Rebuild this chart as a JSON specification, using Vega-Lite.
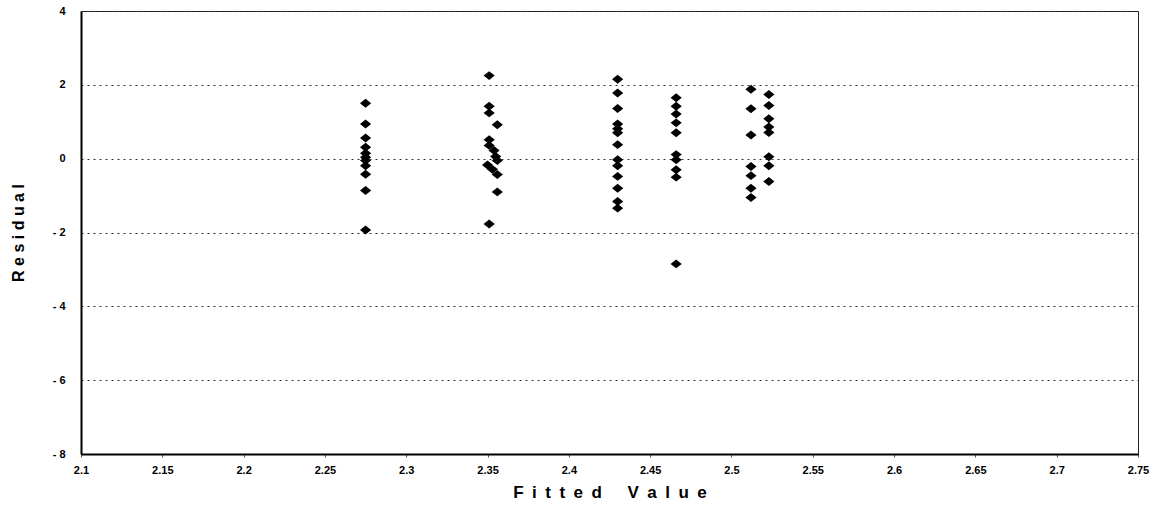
{
  "$schema": "https://vega.github.io/schema/vega-lite/v6.json",
  "width": 1057,
  "height": 443,
  "autosize": {"type": "none"},
  "padding": {"left": 81, "top": 11, "right": 16, "bottom": 52},
  "background": "white",
  "config": {
    "view": {"stroke": "#222", "strokeWidth": 1},
    "font": "Liberation Sans"
  },
  "data": {
    "values": [
      {"fitted": 2.275, "residual": 1.5},
      {"fitted": 2.275, "residual": 0.94},
      {"fitted": 2.275, "residual": 0.56},
      {"fitted": 2.275, "residual": 0.31},
      {"fitted": 2.275, "residual": 0.15},
      {"fitted": 2.275, "residual": 0.04},
      {"fitted": 2.275, "residual": -0.05},
      {"fitted": 2.275, "residual": -0.19},
      {"fitted": 2.275, "residual": -0.42},
      {"fitted": 2.275, "residual": -0.86},
      {"fitted": 2.275, "residual": -1.93},
      {"fitted": 2.351, "residual": 2.25},
      {"fitted": 2.351, "residual": 1.42},
      {"fitted": 2.351, "residual": 1.24},
      {"fitted": 2.356, "residual": 0.92},
      {"fitted": 2.351, "residual": 0.51},
      {"fitted": 2.351, "residual": 0.36},
      {"fitted": 2.354, "residual": 0.22},
      {"fitted": 2.355, "residual": 0.06},
      {"fitted": 2.356, "residual": -0.05},
      {"fitted": 2.350, "residual": -0.17},
      {"fitted": 2.353, "residual": -0.29},
      {"fitted": 2.356, "residual": -0.43},
      {"fitted": 2.356, "residual": -0.9},
      {"fitted": 2.351, "residual": -1.77},
      {"fitted": 2.43, "residual": 2.15},
      {"fitted": 2.43, "residual": 1.78},
      {"fitted": 2.43, "residual": 1.36},
      {"fitted": 2.43, "residual": 0.94},
      {"fitted": 2.43, "residual": 0.81},
      {"fitted": 2.43, "residual": 0.7},
      {"fitted": 2.43, "residual": 0.38},
      {"fitted": 2.43, "residual": -0.03},
      {"fitted": 2.43, "residual": -0.19},
      {"fitted": 2.43, "residual": -0.48},
      {"fitted": 2.43, "residual": -0.8},
      {"fitted": 2.43, "residual": -1.16},
      {"fitted": 2.43, "residual": -1.34},
      {"fitted": 2.466, "residual": 1.65},
      {"fitted": 2.466, "residual": 1.42},
      {"fitted": 2.466, "residual": 1.21},
      {"fitted": 2.466, "residual": 0.97},
      {"fitted": 2.466, "residual": 0.7},
      {"fitted": 2.466, "residual": 0.11},
      {"fitted": 2.466, "residual": -0.03},
      {"fitted": 2.466, "residual": -0.3},
      {"fitted": 2.466, "residual": -0.5},
      {"fitted": 2.466, "residual": -2.85},
      {"fitted": 2.512, "residual": 1.88},
      {"fitted": 2.512, "residual": 1.35},
      {"fitted": 2.512, "residual": 0.64},
      {"fitted": 2.512, "residual": -0.21},
      {"fitted": 2.512, "residual": -0.46},
      {"fitted": 2.512, "residual": -0.8},
      {"fitted": 2.512, "residual": -1.05},
      {"fitted": 2.523, "residual": 1.74},
      {"fitted": 2.523, "residual": 1.44},
      {"fitted": 2.523, "residual": 1.08},
      {"fitted": 2.523, "residual": 0.86},
      {"fitted": 2.523, "residual": 0.71},
      {"fitted": 2.523, "residual": 0.05},
      {"fitted": 2.523, "residual": -0.19},
      {"fitted": 2.523, "residual": -0.62}
    ]
  },
  "mark": {
    "type": "point",
    "shape": "M-1,0L0,-0.8L1,0L0,0.8Z",
    "filled": true,
    "color": "black",
    "opacity": 1,
    "size": 125
  },
  "encoding": {
    "x": {
      "field": "fitted",
      "type": "quantitative",
      "scale": {"domain": [2.1, 2.75], "nice": false, "zero": false},
      "axis": {
        "values": [2.1, 2.15, 2.2, 2.25, 2.3, 2.35, 2.4, 2.45, 2.5, 2.55, 2.6, 2.65, 2.7, 2.75],
        "format": "~g",
        "grid": false,
        "domainColor": "black",
        "domainWidth": 2,
        "tickColor": "#555",
        "tickSize": 3,
        "labelFontSize": 11,
        "labelFontWeight": "bold",
        "labelColor": "black",
        "labelPadding": 7,
        "labelFlush": false,
        "title": "F\u2002i\u2002t\u2002t\u2002e\u2002d\u2002\u2002\u2002V\u2002a\u2002l\u2002u\u2002e",
        "titleFontSize": 17,
        "titleFontWeight": "bold",
        "titleColor": "black",
        "titlePadding": 9
      }
    },
    "y": {
      "field": "residual",
      "type": "quantitative",
      "scale": {"domain": [-8, 4], "nice": false, "zero": false},
      "axis": {
        "values": [-8, -6, -4, -2, 0, 2, 4],
        "labelExpr": "datum.value < 0 ? '- ' + abs(datum.value) : datum.label",
        "grid": true,
        "gridColor": "#333",
        "gridDash": [2, 4],
        "gridWidth": 1,
        "domainColor": "black",
        "domainWidth": 2,
        "ticks": false,
        "labelFontSize": 11,
        "labelFontWeight": "bold",
        "labelColor": "black",
        "labelPadding": 16,
        "labelFlush": false,
        "title": "R e s i d u a l",
        "titleFontSize": 16,
        "titleFontWeight": "bold",
        "titleColor": "black",
        "titlePadding": 26
      }
    }
  }
}
